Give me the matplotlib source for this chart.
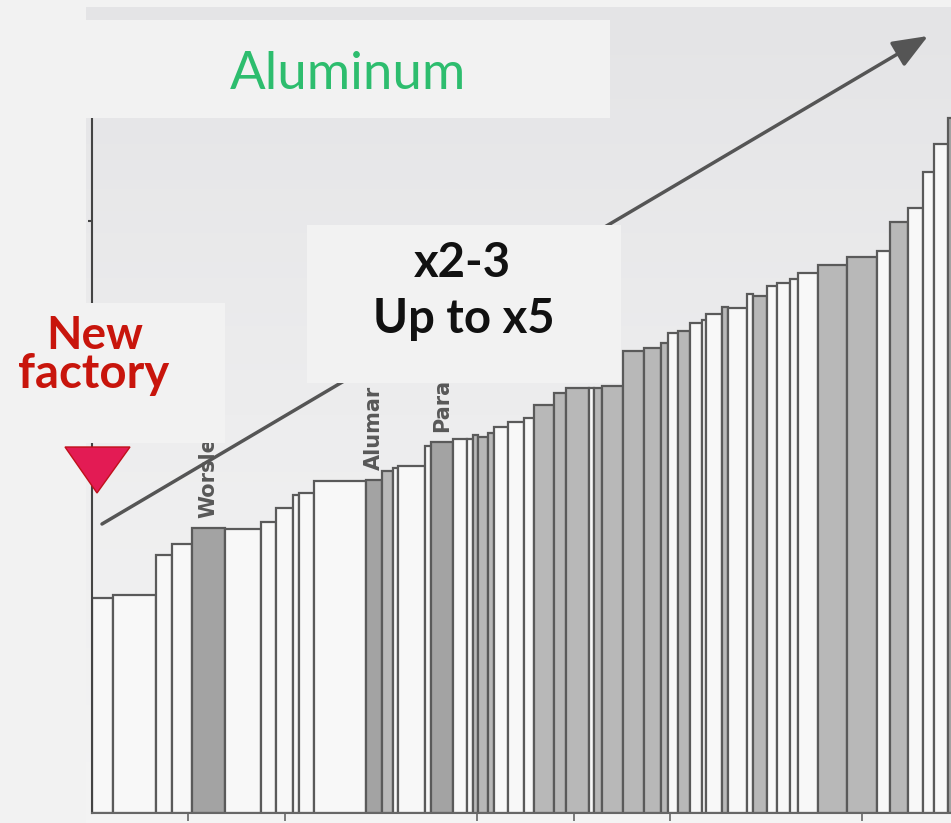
import numpy as np
import matplotlib
matplotlib.use("Agg")
import matplotlib.pyplot as plt
from matplotlib.patches import Rectangle, Polygon, FancyArrowPatch
from matplotlib.colors import LinearSegmentedColormap

# ---- cost curve data: capacity (Mt) and cash cost per plant, sorted by cost ----
capacity = [2.2, 4.4, 1.7, 2.1, 3.4, 3.8, 1.5, 1.8, 0.6, 1.6,
            5.4, 1.6, 1.2, 0.5, 2.8, 0.6, 2.3, 1.4, 0.7, 0.5,
            1.0, 0.6, 1.5, 1.7, 1.0, 2.1, 1.2, 2.4, 0.5, 0.9,
            2.1, 2.2, 1.8, 0.7, 1.1, 1.2, 1.2, 0.5, 1.6, 0.6,
            2.0, 0.6, 1.5, 1.0, 1.4, 0.8, 2.1, 3.0, 3.1, 1.4,
            1.8, 1.6, 1.1, 1.5, 1.4]
cost = [107.5, 109.0, 129.0, 134.5, 142.5, 142.0, 145.5, 152.5, 159.0, 160.0,
        166.0, 166.5, 171.0, 172.5, 173.5, 183.5, 185.5, 187.0, 187.0, 189.0,
        188.0, 190.0, 193.0, 195.5, 197.5, 204.0, 210.0, 212.5, 212.5, 212.5,
        213.5, 231.0, 232.5, 235.0, 240.0, 241.0, 245.0, 246.5, 249.5, 253.0,
        252.5, 259.5, 258.5, 263.5, 265.0, 267.0, 270.0, 274.0, 278.0, 281.0,
        295.5, 302.5, 320.5, 334.5, 347.5]
# plant group: W = open, D = dark grey, L = light grey
group = ["W", "W", "W", "W", "D", "W", "W", "W", "W", "W",
         "W", "D", "L", "W", "W", "W", "D", "W", "W", "L",
         "L", "L", "W", "W", "W", "L", "L", "L", "W", "L",
         "L", "L", "L", "L", "W", "L", "W", "W", "W", "L",
         "W", "W", "L", "W", "W", "W", "W", "L", "L", "W",
         "L", "W", "W", "W", "D"]
named_plants = {4: "Worsley", 11: "Alumar", 16: "Paranam"}
x_ticks = [10, 20, 40, 50, 60, 80]
y_ticks = [296]

fills = {"W": "#f8f8f8", "D": "#a3a3a3", "L": "#b8b8b8"}

W, H = 951, 823
def fx(px):
    return px / W
def fy(py):
    return 1 - py / H

fig = plt.figure(figsize=(W / 100, H / 100), dpi=100)
fig.patch.set_facecolor("#f2f2f2")

# scanned chart panel with a soft vertical shading
bg = fig.add_axes([fx(86), 0, fx(951) - fx(86), fy(7)], zorder=-1)
shade = LinearSegmentedColormap.from_list("panel", ["#e4e4e6", "#ededee", "#f4f4f4"])
bg.imshow(np.linspace(0, 1, 256).reshape(-1, 1), aspect="auto", cmap=shade,
          extent=[0, 1, 0, 1], origin="upper")
bg.axis("off")

ax = fig.add_axes([fx(92), fy(813), fx(951) - fx(92), fy(0) - fy(813)], zorder=0)
ax.set_facecolor("none")

lefts = np.concatenate([[0], np.cumsum(capacity)[:-1]])
ax.bar(lefts, cost, width=capacity, align="edge",
       color=[fills[g] for g in group], edgecolor="#5a5a5a", linewidth=1.6)

for i, name in named_plants.items():
    ax.text(lefts[i] + capacity[i] / 2, cost[i] + 5, name, rotation=90,
            ha="center", va="bottom", fontsize=15, fontweight="bold",
            color="#585858", family="DejaVu Sans")

ax.set_xlim(0, 859 / 9.63)
ax.set_ylim(0, 406.5)
for s in ("top", "right"):
    ax.spines[s].set_visible(False)
ax.spines["left"].set_bounds(0, 347)
ax.spines["left"].set_color("#444444")
ax.spines["left"].set_linewidth(1.5)
ax.spines["bottom"].set_color("#666666")
ax.spines["bottom"].set_linewidth(1.5)
ax.set_xticks(x_ticks)
ax.set_xticklabels([])
ax.set_yticks(y_ticks)
ax.set_yticklabels([])
ax.tick_params(axis="x", direction="out", length=6, width=1.2, colors="#666666")
ax.tick_params(axis="y", direction="out", length=3, width=1.5, colors="#444444")

# trend arrow across the curve
arrow = FancyArrowPatch((fx(102), fy(524)), (fx(928), fy(36)),
                        transform=fig.transFigure,
                        arrowstyle="-|>,head_length=0.45,head_width=0.18",
                        mutation_scale=48, lw=2.5, color="#555555",
                        shrinkA=0, shrinkB=0, zorder=0.5)
fig.add_artist(arrow)

# callout boxes
def box(x0, y0, x1, y1):
    r = Rectangle((fx(x0), fy(y1)), fx(x1) - fx(x0), fy(y0) - fy(y1),
                  transform=fig.transFigure, facecolor="#f2f2f2",
                  edgecolor="none", zorder=1)
    fig.add_artist(r)

box(85, 20, 610, 118)
box(307, 225, 621, 383)
box(0, 303, 225, 443)

fig.add_artist(Polygon([(fx(65), fy(447)), (fx(130), fy(447)), (fx(97), fy(493))],
                       closed=True, transform=fig.transFigure,
                       facecolor="#e31b54", edgecolor="#c0101a", lw=1, zorder=2))

fig.text(fx(348), fy(89), "Aluminum", ha="center", va="baseline",
         fontsize=38, color="#2dbd6e", family="Lato", zorder=3)
fig.text(fx(462), fy(277), "x2-3", ha="center", va="baseline",
         fontsize=34, fontweight="bold", color="#111111", family="Lato", zorder=3)
fig.text(fx(464), fy(333), "Up to x5", ha="center", va="baseline",
         fontsize=34, fontweight="bold", color="#111111", family="Lato", zorder=3)
fig.text(fx(95), fy(349), "New", ha="center", va="baseline",
         fontsize=33, fontweight="bold", color="#c8150c", family="Lato", zorder=3)
fig.text(fx(94), fy(388), "factory", ha="center", va="baseline",
         fontsize=34, fontweight="bold", color="#c8150c", family="Lato", zorder=3)

fig.savefig("out.png", dpi=100, facecolor=fig.get_facecolor())
